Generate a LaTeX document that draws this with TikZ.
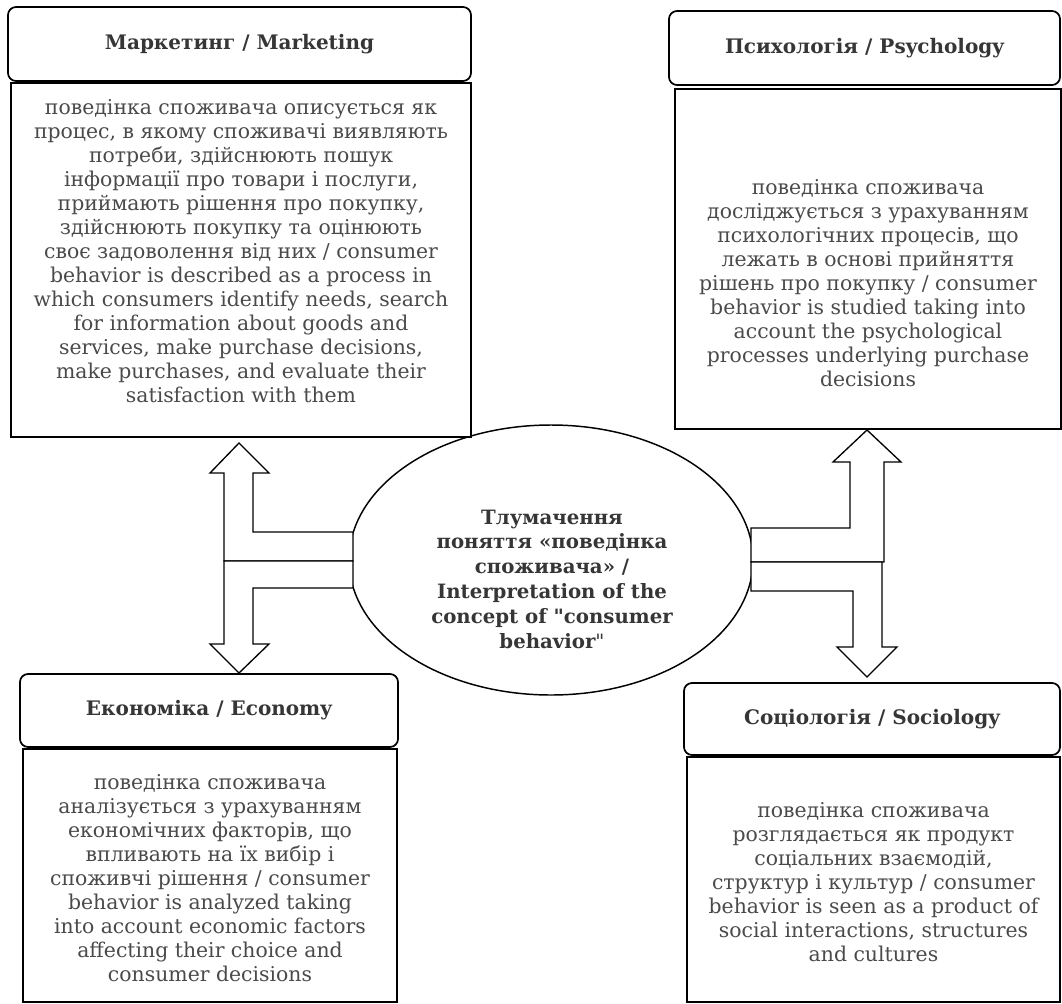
\documentclass[tikz,border=0pt]{standalone}
\usepackage{fontspec}
\setmainfont{DejaVu Serif}[Ligatures=TeXOff]
\usetikzlibrary{shapes.geometric}

\definecolor{textgrey}{HTML}{4A4A4A}
\definecolor{titlegrey}{HTML}{363636}

\tikzset{
  headbox/.style={draw, line width=1.3pt, rounded corners=6pt, fill=white,
    text=titlegrey, font=\bfseries\fontsize{15}{18}\selectfont, inner sep=0pt},
  bodybox/.style={draw, line width=1.1pt, fill=white, inner sep=0pt},
  bodytext/.style={text=textgrey, align=center, inner sep=0pt,
    font=\fontsize{15.3}{18}\selectfont},
  blockarrow/.style={draw, line width=1pt, fill=white, line join=miter},
}

\begin{document}
\begin{tikzpicture}[x=0.75pt, y=-0.75pt]
  % Define the size of one pixel of the layout
  \def\px{0.75pt}
  \useasboundingbox (0,0) rectangle (1062,1003);

  % Draw the central ellipse
  \node[ellipse, draw, line width=1.1pt, fill=white, inner sep=0pt,
    minimum width=404*\px, minimum height=270*\px] (concept) at (551,560) {};
  \node[text=titlegrey, align=center, inner sep=0pt,
    font=\bfseries\fontsize{14.8}{18.6}\selectfont] (concepttext) at (552,579)
    {Тлумачення\\ поняття «поведінка\\ споживача» /\\ Interpretation of the\\
     concept of "consumer\\ behavior{\mdseries"}};

  % Draw the block arrows
  \draw[blockarrow] (239,443) -- (269,473) -- (253,473) -- (253,532) -- (353,532)
    -- (353,561) -- (224,561) -- (224,473) -- (210,473) -- cycle;
  \draw[blockarrow] (224,561) -- (353,561) -- (353,588) -- (253,588) -- (253,644)
    -- (269,644) -- (239,673) -- (210,644) -- (224,644) -- cycle;
  \draw[blockarrow] (867,430) -- (901,462) -- (884,462) -- (884,562) -- (751,562)
    -- (751,528) -- (850,528) -- (850,462) -- (833,462) -- cycle;
  \draw[blockarrow] (751,562) -- (882,562) -- (882,647) -- (897,647) -- (867,677)
    -- (837,647) -- (853,647) -- (853,591) -- (751,591) -- cycle;

  % Marketing
  \node[headbox, minimum width=463*\px, minimum height=74*\px] (marketing) at (239.5,44)
    {Маркетинг / Marketing};
  \node[bodybox, minimum width=460*\px, minimum height=354*\px] (marketingbox) at (241,260) {};
  \node[bodytext] (marketingtext) at (241,251)
    {поведінка споживача описується як\\ процес, в якому споживачі виявляють\\
     потреби, здійснюють пошук\\ інформації про товари і послуги,\\
     приймають рішення про покупку,\\ здійснюють покупку та оцінюють\\
     своє задоволення від них / consumer\\ behavior is described as a process in\\
     which consumers identify needs, search\\ for information about goods and\\
     services, make purchase decisions,\\ make purchases, and evaluate their\\
     satisfaction with them};

  % Psychology
  \node[headbox, minimum width=391*\px, minimum height=74*\px] (psychology) at (864.5,48)
    {Психологія / Psychology};
  \node[bodybox, minimum width=386*\px, minimum height=340*\px] (psychologybox) at (868,259) {};
  \node[bodytext] (psychologytext) at (868,283)
    {поведінка споживача\\ досліджується з урахуванням\\ психологічних процесів, що\\
     лежать в основі прийняття\\ рішень про покупку / consumer\\
     behavior is studied taking into\\ account the psychological\\
     processes underlying purchase\\ decisions};

  % Economy
  \node[headbox, minimum width=378*\px, minimum height=73*\px] (economy) at (209,710.5)
    {Економіка / Economy};
  \node[bodybox, minimum width=374*\px, minimum height=253*\px] (economybox) at (210,875.5) {};
  \node[bodytext] (economytext) at (210,878)
    {поведінка споживача\\ аналізується з урахуванням\\ економічних факторів, що\\
     впливають на їх вибір і\\ споживчі рішення / consumer\\
     behavior is analyzed taking\\ into account economic factors\\
     affecting their choice and\\ consumer decisions};

  % Sociology
  \node[headbox, minimum width=376*\px, minimum height=72*\px] (sociology) at (872,719)
    {Соціологія / Sociology};
  \node[bodybox, minimum width=373*\px, minimum height=245*\px] (sociologybox) at (873.5,879.5) {};
  \node[bodytext] (sociologytext) at (873.5,882)
    {поведінка споживача\\ розглядається як продукт\\ соціальних взаємодій,\\
     структур і культур / consumer\\ behavior is seen as a product of\\
     social interactions, structures\\ and cultures};

\end{tikzpicture}
\end{document}
